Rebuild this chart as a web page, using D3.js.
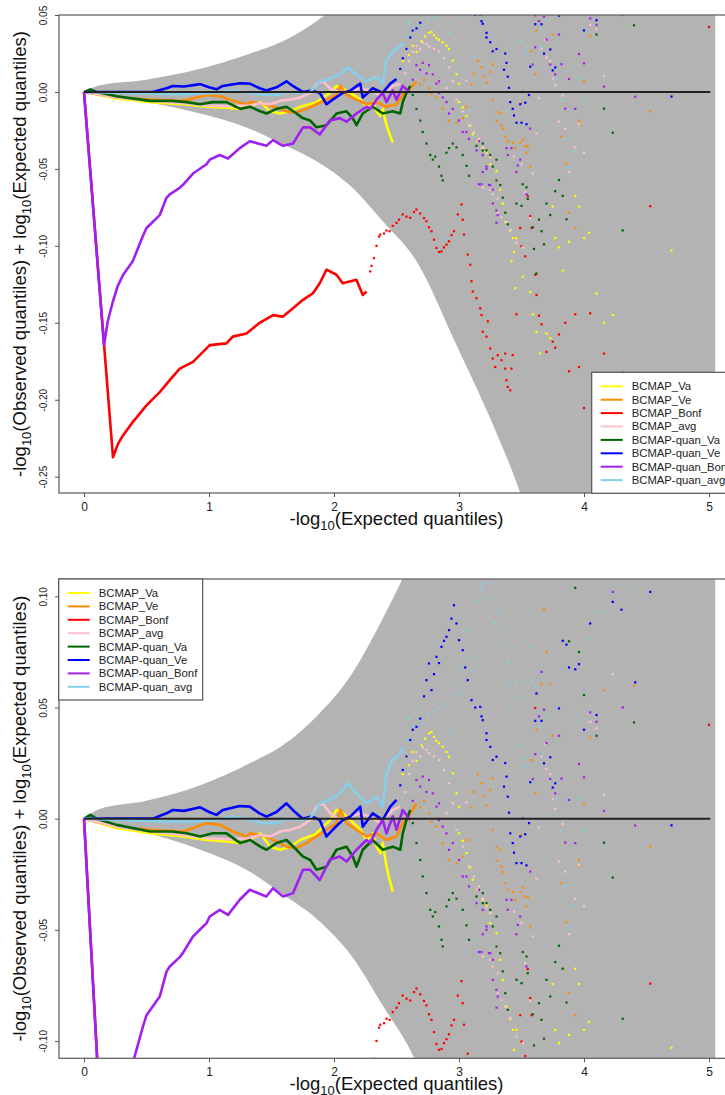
<!DOCTYPE html>
<html>
<head>
<meta charset="utf-8">
<script src="https://cdn.jsdelivr.net/npm/d3@7"></script>
<style>
body{margin:0;background:#fff}
svg{display:block;font-family:"Liberation Sans",Arial,sans-serif}
</style>
</head>
<body>
<div id="chart"></div>
<script>
// series names + colours (plot order)
const seriesNames = ["BCMAP_Va","BCMAP_Ve","BCMAP_Bonf","BCMAP_avg","BCMAP-quan_Va","BCMAP-quan_Ve","BCMAP-quan_Bonf","BCMAP-quan_avg"];
const seriesColors = ["#ffff00","#ff8c00","#ff0000","#ffc0cb","#006400","#0000ff","#a020f0","#87ceeb"];

// confidence band
const bandX  = [0, 0.125, 0.5, 0.93, 1.33, 1.59, 1.86, 2.13, 2.39, 2.66, 2.98, 3.32, 3.47, 3.6, 5.05];
const bandHi = [0, 0.0043, 0.008, 0.015, 0.025, 0.033, 0.046, 0.064, 0.090, 0.122, 0.17, 0.24, 0.28, 0.32, 2.0];
const bandLo = [0, -0.002, -0.0065, -0.014, -0.024, -0.034, -0.045, -0.061, -0.084, -0.110, -0.1645, -0.2255, -0.256, -0.29, -2.0];

const xTicks = [0, 1, 2, 3, 4, 5];
const yTicksTop = [0.05, 0, -0.05, -0.1, -0.15, -0.2, -0.25];
const yTicksBottom = [0.1, 0.05, 0, -0.05, -0.1];

// dense (line-like) part of each series: [expected, difference]
const vaLine = [[0,0],[0.26,-0.0043],[0.53,-0.0066],[0.79,-0.008],[0.98,-0.0096],[1.14,-0.0103],[1.25,-0.011],[1.33,-0.0095],[1.41,-0.0066],[1.49,-0.0126],[1.57,-0.014],[1.65,-0.0126],[1.73,-0.0096],[1.85,-0.007],[1.97,-0.0006],[2.02,0.0039],[2.07,0.0024],[2.13,-0.0006],[2.21,-0.005],[2.26,-0.0096],[2.31,-0.0066],[2.34,-0.0126],[2.37,-0.0155],[2.39,-0.011],[2.42,-0.0216],[2.445,-0.0275],[2.47,-0.0328]];
const veLine = [[0,0],[0.26,-0.0036],[0.53,-0.005],[0.79,-0.0058],[0.87,-0.0043],[0.98,-0.002],[1.09,-0.0028],[1.19,-0.0058],[1.3,-0.008],[1.33,-0.0066],[1.46,-0.008],[1.54,-0.0103],[1.62,-0.0126],[1.7,-0.0133],[1.78,-0.011],[1.86,-0.008],[1.94,-0.005],[2.02,-0.002],[2.05,0.004],[2.1,-0.002],[2.18,-0.005],[2.26,-0.008],[2.34,-0.0066],[2.42,-0.0096],[2.5,-0.008],[2.55,-0.002],[2.61,0.0024],[2.66,0.0069]];
const bonfLine = [[0,0],[0.232,-0.2374],[0.27,-0.229],[0.312,-0.2232],[0.39,-0.2145],[0.5,-0.2037],[0.606,-0.195],[0.686,-0.1873],[0.766,-0.1798],[0.872,-0.1754],[0.952,-0.1689],[1.006,-0.1645],[1.14,-0.1634],[1.19,-0.159],[1.3,-0.157],[1.405,-0.15],[1.512,-0.145],[1.59,-0.146],[1.672,-0.1406],[1.752,-0.1351],[1.832,-0.1308],[1.886,-0.1243],[1.94,-0.1155],[2.02,-0.1188],[2.07,-0.1243],[2.18,-0.122],[2.23,-0.1319],[2.26,-0.1297]];
const avgLine = [[0,0],[0.26,-0.0036],[0.53,-0.0058],[0.79,-0.0073],[0.98,-0.0088],[1.14,-0.0093],[1.33,-0.0088],[1.41,-0.0073],[1.49,-0.008],[1.57,-0.0058],[1.65,-0.005],[1.73,-0.0036],[1.81,-0.0006],[1.86,0.0054],[1.91,0.0069],[1.97,0.0024],[2.05,-0.0006],[2.13,0.0009],[2.21,0.0024],[2.29,0.0009],[2.37,-0.002],[2.42,0.0009],[2.47,0.0039],[2.53,0.0054]];
const qVaLine = [[0,0],[0.05,0.0017],[0.1,0],[0.26,-0.0028],[0.53,-0.0058],[0.7,-0.0058],[0.82,-0.0066],[0.93,-0.008],[1.03,-0.0066],[1.14,-0.0066],[1.25,-0.011],[1.33,-0.0096],[1.41,-0.0126],[1.46,-0.014],[1.54,-0.011],[1.62,-0.0096],[1.7,-0.014],[1.75,-0.017],[1.81,-0.0186],[1.86,-0.023],[1.94,-0.0216],[2.02,-0.014],[2.1,-0.0126],[2.15,-0.017],[2.18,-0.0216],[2.23,-0.014],[2.31,-0.0096],[2.39,-0.014],[2.47,-0.0126],[2.53,-0.014],[2.55,-0.0066],[2.58,-0.0006],[2.61,0.0039]];
const qVeLine = [[0,0],[0.3,0],[0.55,0],[0.66,0.0024],[0.71,0.0039],[0.8,0.0035],[0.93,0.0051],[1.0,0.003],[1.06,0.0017],[1.11,0.0039],[1.246,0.0057],[1.326,0.0054],[1.405,0.0024],[1.46,0.0009],[1.54,0.003],[1.62,0.0069],[1.67,0.0039],[1.75,0],[1.82,0.001],[1.886,-0.0006],[1.94,-0.008],[1.99,-0.005],[2.07,-0.0006],[2.13,0.0009],[2.21,0.0054],[2.23,-0.0036],[2.31,0.0024],[2.39,-0.0006],[2.45,0.0054],[2.5,0.0084]];
const qBonfLine = [[0,0],[0.16,-0.1645],[0.19,-0.149],[0.232,-0.136],[0.27,-0.126],[0.312,-0.119],[0.39,-0.11],[0.472,-0.0934],[0.5,-0.0884],[0.606,-0.08],[0.66,-0.0688],[0.686,-0.0665],[0.766,-0.0623],[0.79,-0.0605],[0.872,-0.053],[0.98,-0.047],[1.006,-0.044],[1.086,-0.041],[1.152,-0.0433],[1.246,-0.0365],[1.326,-0.032],[1.459,-0.035],[1.512,-0.0313],[1.592,-0.035],[1.672,-0.0335],[1.752,-0.023],[1.81,-0.023],[1.886,-0.0276],[1.966,-0.0185],[2.046,-0.017],[2.1,-0.0193],[2.18,-0.014],[2.26,-0.0096],[2.29,-0.011],[2.34,-0.005],[2.39,-0.0006],[2.42,-0.0066],[2.47,0.001],[2.5,-0.005],[2.55,0.0039],[2.61,-0.0006]];
const qAvgLine = [[0,0],[0.5,-0.001],[0.8,-0.0015],[1.06,-0.0006],[1.19,0.001],[1.33,-0.0006],[1.43,-0.002],[1.54,-0.002],[1.62,0],[1.726,-0.0006],[1.806,0],[1.86,0.0039],[1.886,0.0069],[1.95,0.008],[2.046,0.0114],[2.11,0.0159],[2.18,0.0114],[2.26,0.0069],[2.34,0.0099],[2.39,0.0054],[2.42,0.0204],[2.47,0.0264],[2.53,0.0294],[2.55,0.0323]];

// sparse tail of each series (individual points)
const vaPts = [[2.55,0.02],[2.58,0.028],[2.6,0.024],[2.63,0.03],[2.66,0.026],[2.7,0.033],[2.73,0.036],[2.76,0.0384],[2.78,0.039],[2.8,0.0368],[2.82,0.035],[2.84,0.0339],[2.87,0.0323],[2.9,0.03],[2.92,0.0279],[2.95,0.0204],[2.98,0.0114],[3.0,0.0054],[3.0,-0.0066],[3.03,-0.01],[3.06,-0.0155],[3.09,-0.022],[3.11,-0.0275],[3.15,-0.032],[3.19,-0.0365],[3.22,-0.039],[3.25,-0.0425],[3.25,-0.047],[3.3,-0.0515],[3.33,-0.0635],[3.35,-0.0725],[3.38,-0.0845],[3.41,-0.09],[3.43,-0.095],[3.44,-0.104],[3.46,-0.095],[3.42,-0.11],[3.45,-0.1275],[3.51,-0.12],[3.57,-0.13],[3.59,-0.1445],[3.62,-0.156],[3.65,-0.17],[3.7,-0.157],[3.73,-0.16],[3.75,-0.0744],[3.77,-0.095],[3.8,-0.101],[3.83,-0.116],[3.88,-0.0973],[3.93,-0.0675],[3.96,-0.0744],[4.0,-0.095],[4.04,-0.0915],[4.1,-0.131],[4.16,-0.15],[4.23,-0.145],[4.7,-0.103]];
const vePts = [[2.69,0.005],[2.72,0.008],[2.76,0.0024],[2.78,-0.0013],[2.82,-0.0036],[2.87,-0.011],[2.92,-0.0186],[2.98,-0.02],[3.03,-0.017],[3.06,-0.0096],[3.1,0.005],[3.12,0.012],[3.15,0.02],[3.18,0.016],[3.2,0.01],[3.22,0.006],[3.25,0.013],[3.27,0.018],[3.27,-0.005],[3.3,-0.013],[3.33,-0.014],[3.3,-0.019],[3.34,-0.0216],[3.35,-0.024],[3.37,-0.029],[3.39,-0.032],[3.43,-0.033],[3.45,-0.0365],[3.49,-0.033],[3.5,-0.0073],[3.51,-0.031],[3.53,-0.035],[3.54,-0.0395],[3.55,-0.0353],[3.57,-0.0485],[3.58,0.0264],[3.61,0.0114],[3.62,0.04],[3.66,0.0604],[3.68,0.094],[3.7,0.075],[3.73,0.0604],[3.75,0.0373],[3.82,-0.029],[3.86,-0.0465],[3.88,-0.0785],[3.93,-0.0885],[3.96,-0.0186],[3.97,-0.021],[4.0,0.0069],[4.05,0.0364],[4.16,0.0578],[4.4,0.06],[4.53,-0.0126]];
const bonfPts = [[2.29,-0.1166],[2.3,-0.113],[2.32,-0.108],[2.34,-0.1],[2.36,-0.094],[2.37,-0.0927],[2.4,-0.092],[2.42,-0.09],[2.445,-0.0905],[2.47,-0.087],[2.5,-0.0851],[2.52,-0.083],[2.55,-0.0796],[2.58,-0.081],[2.61,-0.0818],[2.64,-0.078],[2.66,-0.0764],[2.69,-0.079],[2.72,-0.082],[2.74,-0.084],[2.76,-0.088],[2.78,-0.0905],[2.8,-0.096],[2.82,-0.1014],[2.84,-0.104],[2.86,-0.1036],[2.88,-0.101],[2.9,-0.0992],[2.92,-0.097],[2.94,-0.093],[2.96,-0.0905],[2.99,-0.0796],[3.02,-0.0731],[3.03,-0.083],[3.04,-0.0927],[3.07,-0.1057],[3.09,-0.1123],[3.1,-0.123],[3.11,-0.1297],[3.14,-0.134],[3.17,-0.1406],[3.18,-0.145],[3.19,-0.1558],[3.22,-0.159],[3.23,-0.149],[3.25,-0.1667],[3.27,-0.1732],[3.29,-0.1787],[3.31,-0.171],[3.34,-0.1743],[3.37,-0.17],[3.37,-0.1798],[3.38,-0.1873],[3.39,-0.1917],[3.41,-0.1939],[3.42,-0.1798],[3.43,-0.171],[3.46,-0.1445],[3.49,-0.0884],[3.5,-0.1003],[3.53,-0.1068],[3.55,-0.0677],[3.57,-0.0807],[3.58,-0.0884],[3.61,-0.1188],[3.61,0.0498],[3.62,-0.1319],[3.64,-0.1454],[3.66,-0.151],[3.7,-0.1689],[3.75,-0.1623],[3.77,-0.1662],[3.8,-0.1576],[3.85,-0.15],[3.88,-0.1815],[3.93,-0.1445],[3.96,-0.1787],[4.0,-0.2054],[4.05,-0.1438],[4.16,-0.17],[4.31,-0.1824],[4.53,-0.0742],[5.0,0.0422]];
const avgPts = [[2.57,0.012],[2.6,0.02],[2.63,0.026],[2.66,0.03],[2.69,0.028],[2.71,0.032],[2.74,0.031],[2.76,0.0294],[2.8,0.028],[2.84,0.0264],[2.88,0.0219],[2.92,0.0159],[2.95,0.0069],[2.9,0.0024],[2.98,-0.005],[3.03,-0.0126],[3.06,0.0074],[3.08,-0.0216],[3.12,-0.026],[3.16,-0.0305],[3.19,-0.036],[3.22,-0.04],[3.25,-0.0425],[3.19,-0.062],[3.25,-0.0635],[3.27,-0.0665],[3.3,-0.0575],[3.31,-0.0695],[3.31,-0.0785],[3.34,-0.0815],[3.37,-0.0845],[3.41,-0.0897],[3.44,-0.0418],[3.46,-0.098],[3.5,-0.047],[3.51,-0.101],[3.53,-0.065],[3.57,-0.082],[3.59,-0.053],[3.62,-0.027],[3.64,-0.004],[3.66,0.028],[3.69,0.0336],[3.7,0.0223],[3.73,0.02],[3.75,0.0087],[3.77,0.0044],[3.8,-0.0193],[3.83,-0.0024],[3.85,-0.0238],[3.88,-0.052],[3.93,-0.036],[3.96,-0.0208],[4.0,-0.0395],[4.05,0.0436],[4.1,0.0406],[4.16,0.0106],[4.23,0.065]];
const qVaPts = [[2.63,-0.002],[2.66,-0.011],[2.69,-0.0186],[2.71,-0.026],[2.74,-0.0335],[2.77,-0.041],[2.79,-0.044],[2.81,-0.042],[2.84,-0.0485],[2.86,-0.0545],[2.87,-0.0575],[2.9,-0.0395],[2.92,-0.0365],[2.95,-0.0335],[2.98,-0.036],[3.03,-0.041],[3.06,-0.048],[3.08,-0.0545],[3.14,-0.035],[3.19,-0.038],[3.19,-0.0335],[3.22,-0.038],[3.25,-0.041],[3.27,-0.0485],[3.3,-0.044],[3.3,-0.0575],[3.33,-0.0605],[3.35,-0.0687],[3.37,-0.0785],[3.39,-0.086],[3.46,-0.0725],[3.5,-0.074],[3.51,-0.06],[3.54,-0.062],[3.55,-0.0695],[3.59,-0.088],[3.6,-0.102],[3.62,-0.118],[3.64,-0.083],[3.66,-0.0905],[3.68,-0.099],[3.7,-0.0725],[3.73,-0.08],[3.77,-0.0645],[3.8,-0.0572],[3.83,-0.0675],[3.86,-0.0827],[3.88,0.0798],[3.93,0.1038],[3.96,0.075],[4.0,0.0556],[4.1,0.0373],[4.16,-0.0108],[4.23,-0.0265],[4.31,-0.09],[4.4,0.0433]];
const qVePts = [[2.53,0.015],[2.55,0.0219],[2.58,0.028],[2.61,0.0354],[2.63,0.04],[2.66,0.0413],[2.69,0.045],[2.72,0.055],[2.74,0.0623],[2.76,0.0698],[2.78,0.0578],[2.8,0.065],[2.82,0.0728],[2.84,0.07],[2.86,0.0773],[2.88,0.08],[2.9,0.0818],[2.92,0.0848],[2.94,0.09],[2.96,0.096],[2.98,0.0878],[3.0,0.0803],[3.03,0.0758],[3.05,0.068],[3.07,0.0623],[3.1,0.0533],[3.13,0.05],[3.17,0.0503],[3.18,0.046],[3.19,0.0443],[3.22,0.0384],[3.22,0.0354],[3.25,0.0323],[3.27,0.0264],[3.3,0.0279],[3.36,0.0144],[3.37,0.025],[3.38,0.0189],[3.39,0.0099],[3.4,0.0027],[3.41,-0.0066],[3.43,-0.011],[3.44,-0.0153],[3.46,-0.02],[3.49,-0.008],[3.5,-0.02],[3.51,0],[3.53,-0.007],[3.54,-0.021],[3.56,-0.002],[3.57,0.0164],[3.61,0.044],[3.62,0.0563],[3.66,0.044],[3.68,0.0249],[3.73,0.0276],[3.75,0.014],[3.77,0.0159],[3.8,0.0496],[3.83,0.08],[3.86,0.0783],[3.88,0.068],[3.93,0.0672],[3.96,0.0695],[4.0,0.04],[4.05,0.0878],[4.1,0.0466],[4.23,0.0975],[4.3,0.094],[4.41,0.0613],[4.53,0.102],[4.7,-0.003]];
const qBonfPts = [[2.63,0.008],[2.66,0.0174],[2.69,0.0144],[2.71,0.0189],[2.74,0.012],[2.76,0.0174],[2.79,0.0114],[2.82,0.0054],[2.84,0.0069],[2.84,-0.0006],[2.87,-0.0036],[2.9,-0.0066],[2.92,-0.014],[2.95,-0.011],[3.0,-0.0186],[3.03,-0.026],[3.06,-0.026],[3.08,-0.0305],[3.14,-0.038],[3.16,-0.032],[3.16,-0.06],[3.18,-0.06],[3.19,-0.041],[3.19,-0.052],[3.22,-0.0485],[3.22,-0.05],[3.24,-0.0605],[3.25,-0.0605],[3.27,-0.0635],[3.27,-0.0725],[3.3,-0.077],[3.31,-0.08],[3.3,-0.085],[3.38,-0.0365],[3.39,-0.041],[3.42,-0.0365],[3.46,-0.052],[3.47,-0.0478],[3.49,-0.044],[3.54,-0.0665],[3.57,-0.0238],[3.59,0.0178],[3.61,0.029],[3.64,0.046],[3.66,0.066],[3.68,0.049],[3.7,0.034],[3.73,0.0178],[3.77,0.0114],[3.8,0.0373],[3.82,0.018],[3.85,-0.0108],[3.88,0.0084],[3.93,-0.011],[3.96,0.0246],[4.0,0.0186],[4.05,0.0478],[4.1,0.0436],[4.16,0.0035],[4.23,0.102],[4.31,0.05],[4.41,-0.0031]];
const qAvgPts = [[2.58,0.036],[2.6,0.045],[2.63,0.0413],[2.66,0.05],[2.71,0.0428],[2.75,0.047],[2.8,0.048],[2.84,0.05],[2.87,0.0518],[2.92,0.0443],[2.92,0.0384],[2.95,0.055],[3.0,0.0608],[3.03,0.0683],[3.03,0.0563],[3.06,0.0848],[3.08,0.0728],[3.11,0.0668],[3.14,0.098],[3.18,0.103],[3.19,0.1057],[3.23,0.106],[3.25,0.099],[3.29,0.088],[3.3,0.094],[3.33,0.091],[3.35,0.086],[3.38,0.078],[3.39,0.07],[3.41,0.061],[3.42,0.049],[3.43,0.077],[3.46,0.0616],[3.47,0.0545],[3.5,0.033],[3.53,0.027],[3.54,0.0234],[3.55,0.093],[3.57,0.077],[3.58,0.062],[3.61,0.06],[3.65,0.041],[3.67,0.029],[3.7,0.0466],[3.78,0.0092],[3.82,-0.0054],[3.85,-0.03],[3.88,-0.049],[3.92,-0.039],[3.96,0.0089],[4.0,-0.0054],[4.05,0.0807],[4.1,0.093],[4.41,0.104]];

const seriesLines = [vaLine, veLine, bonfLine, avgLine, qVaLine, qVeLine, qBonfLine, qAvgLine];
const seriesPts = [vaPts, vePts, bonfPts, avgPts, qVaPts, qVePts, qBonfPts, qAvgPts];

const W = 725, H = 1095;
const svg = d3.select("#chart").append("svg").attr("width", W).attr("height", H);
const x = d3.scaleLinear().domain([-0.2, 5.2]).range([59, 734]);

function drawPanel(id, top, bottom, yDomain, yTicks, leg) {
  const y = d3.scaleLinear().domain(yDomain).range([bottom, top]);
  const g = svg.append("g");

  g.append("clipPath").attr("id", "clip" + id)
    .append("rect").attr("x", 59).attr("y", top).attr("width", 675).attr("height", bottom - top);
  const plot = g.append("g").attr("clip-path", `url(#clip${id})`);

  // grey band
  const area = d3.area().curve(d3.curveMonotoneX)
    .x((d, i) => x(bandX[i])).y0((d, i) => y(bandLo[i])).y1((d, i) => y(bandHi[i]));
  plot.append("path").datum(bandX).attr("d", area).attr("fill", "#b3b3b3");

  const line = d3.line().x(d => x(d[0])).y(d => y(d[1]));
  seriesLines.forEach((s, i) => {
    plot.append("path").datum(s).attr("d", line)
      .attr("fill", "none").attr("stroke", seriesColors[i])
      .attr("stroke-width", 2.6).attr("stroke-linejoin", "round");
    plot.selectAll(".p" + i).data(seriesPts[i]).join("rect")
      .attr("class", "p" + i)
      .attr("x", d => x(d[0]) - 1.1).attr("y", d => y(d[1]) - 1.1)
      .attr("width", 2.2).attr("height", 2.2)
      .attr("fill", seriesColors[i]);
  });

  // zero line
  plot.append("line").attr("x1", x(0)).attr("x2", x(5.01)).attr("y1", y(0)).attr("y2", y(0))
    .attr("stroke", "#222").attr("stroke-width", 2);

  // box
  g.append("rect").attr("x", 59).attr("y", top).attr("width", 675).attr("height", bottom - top)
    .attr("fill", "none").attr("stroke", "#666").attr("stroke-width", 1.3);

  // axes
  const xa = g.append("g").attr("transform", `translate(0,${bottom})`)
    .call(d3.axisBottom(x).tickValues(xTicks).tickSize(4).tickPadding(5).tickFormat(d3.format("d")));
  xa.select(".domain").remove();
  xa.selectAll("text").attr("font-size", 12).attr("fill", "#222").attr("font-family", null);
  xa.selectAll("line").attr("stroke", "#555");

  const ya = g.append("g").attr("transform", "translate(59,0)")
    .call(d3.axisLeft(y).tickValues(yTicks).tickSize(4).tickFormat(d => d.toFixed(2)));
  ya.select(".domain").remove();
  ya.selectAll("line").attr("stroke", "#555");
  ya.selectAll("text").attr("font-size", 10).attr("fill", "#222").attr("font-family", null)
    .attr("transform", "rotate(-90)").attr("text-anchor", "middle")
    .attr("x", 0).attr("y", -12).attr("dy", 0);

  // axis titles
  const xt = g.append("text").attr("x", 396.5).attr("y", bottom + 32)
    .attr("text-anchor", "middle").attr("font-size", 18.5).attr("fill", "#111");
  xt.append("tspan").text("-log");
  xt.append("tspan").text("10").attr("font-size", 13).attr("dy", 5);
  xt.append("tspan").text("(Expected quantiles)").attr("dy", -5);

  const yt = g.append("text").attr("transform", `translate(26,${(top + bottom) / 2}) rotate(-90)`)
    .attr("text-anchor", "middle").attr("font-size", 18.5).attr("fill", "#111");
  yt.append("tspan").text("-log");
  yt.append("tspan").text("10").attr("font-size", 13).attr("dy", 5);
  yt.append("tspan").text("(Observed quantiles) + log").attr("dy", -5);
  yt.append("tspan").text("10").attr("font-size", 13).attr("dy", 5);
  yt.append("tspan").text("(Expected quantiles)").attr("dy", -5);

  // legend
  const lg = g.append("g").attr("transform", `translate(${leg.x},${leg.y})`);
  lg.append("rect").attr("width", leg.w).attr("height", 121)
    .attr("fill", "#fff").attr("stroke", "#555").attr("stroke-width", 1.2);
  seriesNames.forEach((n, i) => {
    const ry = 14 + i * 13.4;
    lg.append("line").attr("x1", 9).attr("x2", 31).attr("y1", ry).attr("y2", ry)
      .attr("stroke", seriesColors[i]).attr("stroke-width", 2);
    lg.append("text").attr("x", 40).attr("y", ry).attr("dy", "0.35em")
      .attr("font-size", 11.3).attr("fill", "#222").text(n);
  });
}

drawPanel(1, 15, 493, [-0.2606, 0.05], yTicksTop, {x: 591.7, y: 372.3, w: 160});
drawPanel(2, 579, 1058.3, [-0.1078, 0.1078], yTicksBottom, {x: 58.7, y: 579, w: 144});
</script>
</body>
</html>
